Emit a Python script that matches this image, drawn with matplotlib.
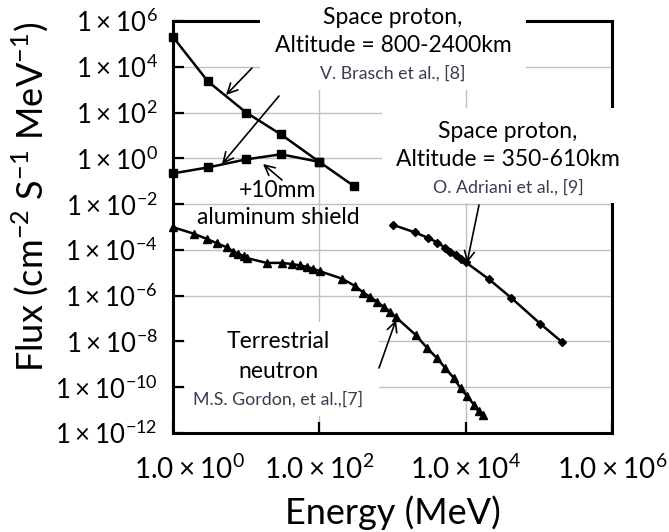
import matplotlib
matplotlib.use("Agg")
import matplotlib.pyplot as plt
import matplotlib.transforms as mtransforms
from matplotlib.patches import Rectangle
import numpy as np

plt.rcParams['font.family'] = ['Lato', 'DejaVu Sans']
plt.rcParams['mathtext.fontset'] = 'custom'
plt.rcParams['mathtext.rm'] = 'Lato'

# ---------------- data ----------------
e_proton_high = [1, 3, 10, 30, 100, 300]
f_proton_high = [2.0e5, 2.3e3, 1.0e2, 11, 0.7, 0.06]

e_proton_shield = [1, 3, 10, 30, 100]
f_proton_shield = [0.22, 0.4, 0.9, 1.5, 0.7]

e_proton_low = [1000, 2000, 3100, 4100, 5300, 6200, 7300, 8500, 10000,
                21000, 42000, 1.05e5, 2.1e5]
f_proton_low = [1.26e-3, 5.9e-4, 3.3e-4, 2.1e-4, 1.2e-4, 8.5e-5, 6.0e-5,
                4.1e-5, 2.9e-5, 5.1e-6, 8.0e-7, 5.9e-8, 9.1e-9]

e_neutron = [1, 1.96, 2.9, 4.0, 5.4, 6.7, 7.8, 9.2, 10.2, 19, 31, 42, 55, 68,
             83, 103, 205, 310, 400, 500, 620, 760, 935, 1100, 2080, 3000,
             4100, 5300, 6900, 8500, 10500, 13000, 15000, 17000]
f_neutron = [9.8e-4, 5.0e-4, 3.0e-4, 1.95e-4, 1.3e-4, 8.5e-5, 6.7e-5, 5.4e-5,
             4.4e-5, 2.7e-5, 2.7e-5, 2.4e-5, 2.1e-5, 1.8e-5, 1.5e-5, 1.15e-5,
             5.5e-6, 2.6e-6, 1.35e-6, 8.7e-7, 5.3e-7, 3.2e-7, 1.95e-7, 1.2e-7,
             1.9e-8, 5.0e-9, 1.8e-9, 6.7e-10, 2.5e-10, 9.0e-11, 4.0e-11,
             1.7e-11, 8.7e-12, 6.3e-12]

x_ticks = [1e0, 1e2, 1e4, 1e6]
x_ticklabels = [r'$\mathregular{1.0\times10^{0}}$', r'$\mathregular{1.0\times10^{2}}$',
                r'$\mathregular{1.0\times10^{4}}$', r'$\mathregular{1.0\times10^{6}}$']
y_exponents = [6, 4, 2, 0, -2, -4, -6, -8, -10, -12]
y_ticklabels = [r'$\mathregular{1\times10^{%d}}$' % k for k in y_exponents]

# ---------------- figure ----------------
W, H = 669, 532
fig = plt.figure(figsize=(W / 100, H / 100), dpi=100)
L, R, T, B = 173, 612, 21, 433
ax = fig.add_axes([L / W, 1 - B / H, (R - L) / W, (B - T) / H])
ax.set_xscale('log')
ax.set_yscale('log')
ax.set_xlim(1e0, 1e6)
ax.set_ylim(1e-12, 1e6)

ax.set_xticks(x_ticks)
ax.set_xticklabels(x_ticklabels, fontsize=20)
ax.set_yticks([10.0 ** k for k in y_exponents])
ax.set_yticklabels(y_ticklabels, fontsize=18.5)
ax.minorticks_off()
ax.tick_params(axis='both', direction='in', length=8, width=1.6)
ax.tick_params(axis='x', pad=16)
ax.tick_params(axis='y', pad=11)
ax.grid(True, color='#c0c0c0', lw=1.0, zorder=0)
ax.set_axisbelow(True)
for s in ax.spines.values():
    s.set_linewidth(2.2)
    s.set_color('black')

# shift first x tick label to the right as in the reference
first = ax.get_xticklabels()[0]
first.set_transform(first.get_transform() + mtransforms.ScaledTranslation(16 / 100, 0, fig.dpi_scale_trans))

lw = 1.8
ax.plot(e_proton_high, f_proton_high, '-s', color='black', lw=lw, ms=6, clip_on=False, zorder=5)
ax.plot(e_proton_shield, f_proton_shield, '-s', color='black', lw=lw, ms=6, clip_on=False, zorder=5)
ax.plot(e_proton_low, f_proton_low, '-D', color='black', lw=lw, ms=4.5, clip_on=False, zorder=5)
ax.plot(e_neutron, f_neutron, '-^', color='black', lw=lw, ms=5.5, clip_on=False, zorder=5)

def ax_frac(px, py):
    return ((px - L) / (R - L), (B - py) / (B - T))

def white_box(x0, y0, x1, y1):
    ax0, ay1 = ax_frac(x0, y0)
    ax1, ay0 = ax_frac(x1, y1)
    ax.add_patch(Rectangle((ax0, ay0), ax1 - ax0, ay1 - ay0, transform=ax.transAxes,
                           facecolor='white', edgecolor='none', clip_on=False, zorder=2.7))

white_box(260, -5, 526, 90)
white_box(382, 108, 630, 203)
white_box(185, 322, 379, 416)

def ftext(px, py, s, size, color='black'):
    fig.text(px / W, 1 - py / H, s, fontsize=size, color=color, ha='center', va='center', zorder=10)

ref_color = '#3b3b4f'
big = 16.5
small = 12.8
ftext(393, 17, 'Space proton,', big)
ftext(393, 46, 'Altitude = 800-2400km', big)
ftext(393, 73, 'V. Brasch et al., [8]', small, ref_color)
ftext(508, 131, 'Space proton,', big)
ftext(508, 160, 'Altitude = 350-610km', big)
ftext(508, 187, 'O. Adriani et al., [9]', small, ref_color)
ftext(278, 190, '+10mm', big)
ftext(278, 218, 'aluminum shield', big)
ftext(278, 341, 'Terrestrial', big)
ftext(278, 372, 'neutron', big)
ftext(278, 399, 'M.S. Gordon, et al.,[7]', small, ref_color)

def arrow(tail, tip):
    ax.annotate('', xy=ax_frac(*tip), xytext=ax_frac(*tail), xycoords='axes fraction',
                textcoords='axes fraction',
                arrowprops=dict(arrowstyle='->', lw=1.2, color='black',
                                mutation_scale=18, shrinkA=0, shrinkB=0),
                annotation_clip=False, zorder=6)

arrow((252, 68), (226, 95))
arrow((279, 96), (222, 164))
arrow((282, 180), (263, 164))
arrow((479, 205), (467, 263))
arrow((379, 368), (396, 320))

fig.text(30 / W, 1 - 197 / H,
         r'Flux (cm$^{\mathregular{-2}}$ S$^{\mathregular{-1}}$ MeV$^{\mathregular{-1}}$)',
         fontsize=26, rotation=90, ha='center', va='center')
fig.text(393 / W, 1 - 513 / H, 'Energy (MeV)', fontsize=26, ha='center', va='center')

fig.savefig('out.png', dpi=100)
